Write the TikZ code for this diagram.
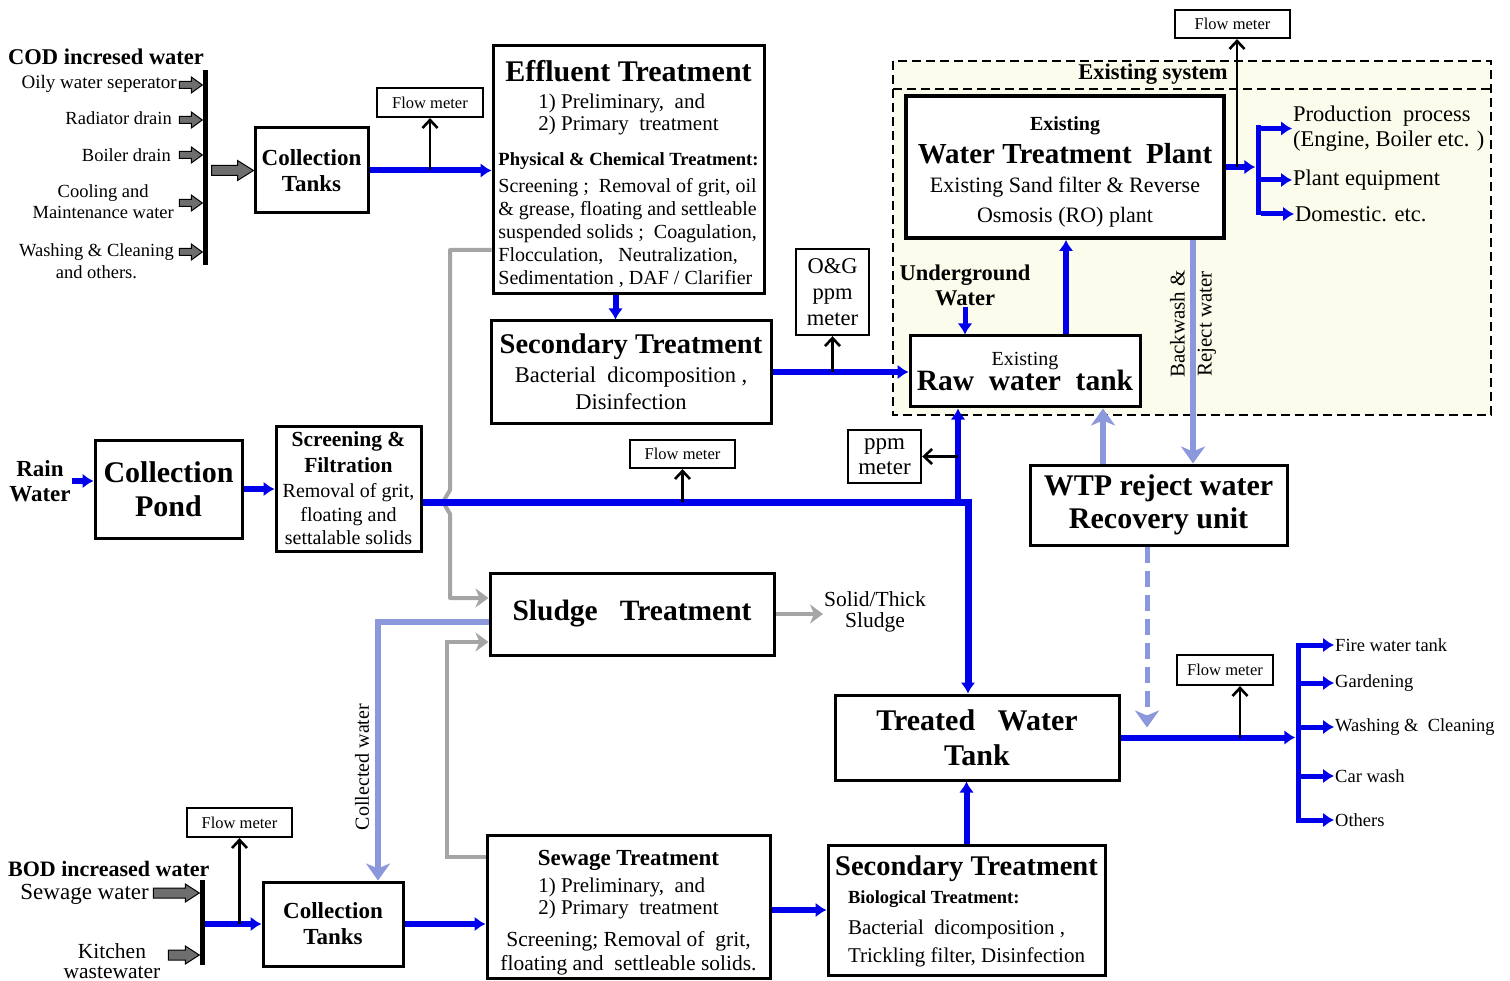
\documentclass[tikz,border=0pt]{standalone}
\usepackage{fontspec}
\setmainfont{Liberation Serif}
\usepackage{xcolor}
\usepackage{tikz}
\usetikzlibrary{arrows.meta,calc}

\newcommand{\fsz}[2]{\fontsize{#1}{#2}\selectfont}
% tip, length, shaft half width, head half width, head length
\newcommand{\fatarrow}[5]{%
  \filldraw[fill=fatgray, line width=1pt, shift={#1}] (-#2,-#3) -- (-#5,-#3) -- (-#5,-#4) -- (0,0)
    -- (-#5,#4) -- (-#5,#3) -- (-#2,#3) -- cycle;}
\definecolor{flowblue}{RGB}{0,0,235}
\definecolor{paleblue}{RGB}{140,152,220}
\definecolor{sludgegray}{RGB}{165,165,165}
\definecolor{fatgray}{RGB}{110,110,110}
\definecolor{exfill}{RGB}{252,252,236}

\begin{document}
\begin{tikzpicture}[x=1pt, y=-1pt,
    box/.style={draw, line width=3pt, fill=white, inner sep=2pt, align=center},
    meterbox/.style={draw, line width=2.2pt, fill=white, inner sep=1pt, font=\fsz{16.5}{18}},
    lbl/.style={inner sep=1pt, align=center},
    flow/.style={flowblue, line width=6pt, -{Latex[length=11pt,width=15pt]}},
    pale/.style={paleblue, line width=6pt, -{Stealth[length=17pt,width=24pt,inset=5pt]}},
    sludge/.style={sludgegray, line width=4pt, -{Stealth[length=13pt,width=19pt,inset=4pt]}},
    meter/.style={line width=2.6pt, -{Straight Barb[length=8pt,width=15pt]}},
    bus/.style={fill=black, inner sep=0pt, minimum width=5pt}
  ]
  \fill[white] (0,0) rectangle (1510,981);
  \useasboundingbox (0,0) rectangle (1510,981);

  % Existing system frame
  \filldraw[fill=exfill, line width=2.2pt, dash pattern=on 9pt off 5pt] (893,61) rectangle (1491,415);
  \draw[line width=2.2pt, dash pattern=on 9pt off 5pt] (893,89) -- (1491,89);
  \node[font=\fsz{22.5}{24}\bfseries, inner sep=0pt] (exs) at (1153,74) {Existing system};

  % COD side
  \node[anchor=west, font=\fsz{22.5}{24}\bfseries, inner sep=0pt] (cod) at (8,57) {COD incresed water};
  \node[bus, minimum height=195pt] (bar1) at (205,167.5) {};
  \node[lbl, anchor=east, font=\fsz{19}{21}] (oily) at (178,84) {Oily water\ seperator};
  \node[lbl, anchor=east, font=\fsz{18.5}{21}] (rad) at (173,118) {Radiator drain};
  \node[lbl, anchor=east, font=\fsz{18.5}{21}] (boil) at (172,155) {Boiler drain};
  \node[lbl, anchor=east, font=\fsz{18.5}{21}] (cool) at (175,202) {Cooling and\\Maintenance water};
  \node[lbl, anchor=east, font=\fsz{18.5}{22}] (wash) at (175,261) {Washing \& Cleaning\\and others.};
  \foreach \y in {85,120,155,203,252} {
    \fatarrow{(bar1.west |- 0,\y)}{23}{3.5}{8}{11}
  }

  \node[box, minimum width=113pt, minimum height=85pt, font=\fsz{23}{26}\bfseries] (ct1) at (311.5,170.5) {Collection\\Tanks};
  \fatarrow{(ct1.west)}{42}{5}{10}{16}
  \node[meterbox, minimum width=106pt, minimum height=29pt] (fm1) at (430,102.5) {Flow meter};

  % Effluent and secondary treatment
  \node[box, minimum width=271pt, minimum height=245pt, font=\fsz{20}{23}] (eff) at (628.5,169.5) {%
    {\fsz{30}{30}\bfseries\rule{0pt}{34pt}Effluent Treatment}\\[10pt]
    {\fsz{21}{22}\begin{tabular}{@{}l@{}}1) Preliminary,\ \ and\\2) Primary\ \ treatment\end{tabular}}\\[11pt]
    \begin{tabular}{@{}l@{}}{\fsz{18.6}{23}\bfseries Physical \& Chemical Treatment:}\\[4pt]
      Screening ;\ \ Removal of grit, oil\\
      \& grease, floating and settleable\\
      suspended solids ;\ \ Coagulation,\\
      Flocculation,\ \ \ Neutralization,\\
      Sedimentation , DAF / Clarifier\end{tabular}};
  \node[box, minimum width=280pt, minimum height=102pt, font=\fsz{22.5}{27}] (sec1) at (631,372) {%
    {\fsz{28.5}{30}\bfseries Secondary Treatment}\\[2pt] Bacterial\ \ dicomposition ,\\ Disinfection};
  \node[box, line width=2.4pt, minimum width=73pt, minimum height=86pt, font=\fsz{22.5}{26}] (og) at (832.5,292) {O\&G\\ppm\\meter};

  % Existing plant
  \node[box, line width=4pt, minimum width=318pt, minimum height=142pt, font=\fsz{22}{29.5}] (wtp) at (1065,167) {%
    {\fsz{20}{22}\bfseries\rule{0pt}{24pt}Existing}\\[3pt] {\fsz{29}{30}\bfseries Water Treatment\ \ Plant}\\
    Existing Sand filter \& Reverse\\ Osmosis (RO) plant};
  \node[meterbox, minimum width=115pt, minimum height=28pt] (fm0) at (1232.5,24) {Flow meter};
  \node[bus, fill=flowblue, minimum height=90pt] (bus1) at (1258,170.5) {};
  \node[lbl, anchor=west, font=\fsz{22.5}{25}, align=left] (prod) at (1292,128.5) {Production\ \ process\\(Engine, Boiler etc. )};
  \node[lbl, anchor=west, font=\fsz{22.5}{25}] (peq) at (1292,180) {Plant equipment};
  \node[lbl, anchor=west, font=\fsz{22.5}{25}] (dom) at (1294,214) {Domestic. etc.};
  \node[lbl, font=\fsz{22.5}{25}\bfseries] (ug) at (965,285) {Underground\\Water};
  \node[box, minimum width=230pt, minimum height=71pt, font=\fsz{20}{25}] (rw) at (1025,371.5) {%
    Existing\\{\fsz{29.5}{30}\bfseries Raw\ \ water\ \ tank}};
  \node[box, minimum width=257pt, minimum height=80pt, font=\fsz{30}{33}\bfseries] (rej) at (1158.5,505) {WTP reject water\\Recovery unit};
  \node[lbl, rotate=90, font=\fsz{21}{27}] (bwl) at (1193,324) {Backwash \&\\Reject water};

  % Rain water
  \node[lbl, font=\fsz{23}{25}\bfseries] (rain) at (40,481) {Rain\\Water};
  \node[box, minimum width=147pt, minimum height=98pt, font=\fsz{30}{34}\bfseries] (pond) at (168.5,489) {Collection\\Pond};
  \node[box, minimum width=145pt, minimum height=125pt, font=\fsz{20}{23.5}, inner sep=0pt] (scr) at (348.5,488.5) {%
    {\fsz{21.5}{26}\bfseries Screening \&}\\[2pt] {\fsz{21.5}{26}\bfseries Filtration}\\[2pt]
    Removal of grit,\\ floating and\\ settalable solids};
  \node[box, line width=2.4pt, minimum width=73pt, minimum height=53pt, font=\fsz{23}{25}] (ppm) at (884.5,456.5) {ppm\\meter};
  \node[meterbox, minimum width=105pt, minimum height=28pt] (fm2) at (682.5,454) {Flow meter};

  % Sludge and treated water
  \node[box, minimum width=284pt, minimum height=82pt, font=\fsz{29.5}{30}\bfseries] (sl) at (632,614) {Sludge\ \ \ Treatment};
  \node[lbl, font=\fsz{21.5}{21}] (solid) at (875,612) {Solid/Thick\\Sludge};
  \node[box, minimum width=284pt, minimum height=85pt, font=\fsz{30}{35}\bfseries] (tw) at (977,737.5) {Treated\ \ \ Water\\Tank};
  \node[meterbox, minimum width=96pt, minimum height=30pt] (fm3) at (1225,670) {Flow meter};
  \node[bus, fill=flowblue, minimum height=180pt] (bus2) at (1298,733) {};
  \node[lbl, anchor=west, font=\fsz{18.5}{21}] (fire) at (1334,645) {Fire water tank};
  \node[lbl, anchor=west, font=\fsz{18.5}{21}] (gard) at (1334,683) {Gardening};
  \node[lbl, anchor=west, font=\fsz{18.5}{21}] (wcl) at (1334,727) {Washing \&\ \ Cleaning};
  \node[lbl, anchor=west, font=\fsz{18.5}{21}] (car) at (1334,776) {Car wash};
  \node[lbl, anchor=west, font=\fsz{18.5}{21}] (oth) at (1334,820) {Others};

  % BOD side
  \node[anchor=west, font=\fsz{22}{24}\bfseries, inner sep=0pt] (bod) at (8,869) {BOD increased water};
  \node[bus, minimum height=85pt] (bar2) at (202,922.5) {};
  \node[lbl, anchor=east, font=\fsz{23}{24}, inner sep=0pt] (sewl) at (149,894) {Sewage water};
  \node[lbl, font=\fsz{21.5}{20.5}] (kit) at (112,961) {Kitchen\\wastewater};
  \fatarrow{(bar2.west |- 0,893)}{46}{5}{9}{14}
  \fatarrow{(bar2.west |- 0,955)}{31}{5}{9}{14}
  \node[box, minimum width=140pt, minimum height=84pt, font=\fsz{23}{26}\bfseries] (ct2) at (333,924) {Collection\\Tanks};
  \node[meterbox, minimum width=105pt, minimum height=29pt] (fm4) at (239.5,822.5) {Flow meter};
  \node[box, minimum width=283pt, minimum height=143pt, font=\fsz{21.5}{24}] (sew) at (628.5,906.5) {%
    {\fsz{23}{24}\bfseries\rule{0pt}{27pt}Sewage Treatment}\\[6pt]
    {\fsz{21}{22}\begin{tabular}{@{}l@{}}1) Preliminary,\ \ and\\ 2) Primary\ \ treatment\end{tabular}}\\[9pt]
    Screening;\ Removal\ of\ \ grit,\\ floating\ and\ \ settleable\ solids.};
  \node[box, minimum width=277pt, minimum height=130pt, font=\fsz{21}{28}] (sec2) at (966.5,910) {%
    {\fsz{28.5}{30}\bfseries\rule{0pt}{27pt}Secondary Treatment}\\[1pt]
    \begin{tabular}{@{}l@{}}{\fsz{18.5}{28}\bfseries Biological Treatment:}\\[3pt]
      Bacterial\ \ dicomposition ,\\ Trickling filter, Disinfection\end{tabular}};

  % Sludge lines
  \draw[sludge, line join=round] (eff.west |- 0,250) -- (450,250) -- (450,490) -- (443,502) -- (450,514) -- (450,598) -- (sl.west |- 0,598);
  \draw[sludge] (sew.west |- 0,857) -- (447,857) -- (447,642) -- (sl.west |- 0,642);
  \draw[sludge] (sl.east) -- (sl.east -| solid.west);

  % Water flows
  \draw[flow] (ct1.east) -- (ct1.east -| eff.west);
  \draw[meter] (fm1.south |- ct1.east) -- (fm1.south);
  \coordinate (e1) at ($(eff.south)+(-13,0)$);
  \draw[flow] (e1) -- (e1 |- sec1.north);
  \draw[flow] (sec1.east) -- (sec1.east -| rw.west);
  \draw[meter] (og.south |- sec1.east) -- (og.south);
  \draw[flow, line width=5pt] (ug.south) -- (ug.south |- rw.north);
  \coordinate (r1) at ($(rw.north)+(41,0)$);
  \draw[flow] (r1) -- (r1 |- wtp.south);
  \draw[flow] (wtp.east) -- (wtp.east -| bus1.west);
  \foreach \n in {prod,peq,dom}
    \draw[flow, line width=5pt] (bus1.east |- \n.west) -- (\n.west);
  \coordinate (m0) at ($(fm0.south)+(4.5,0)$);
  \draw[meter] (m0 |- wtp.east) -- (m0);

  % Reject water
  \coordinate (b1) at ($(wtp.south)+(128,0)$);
  \draw[pale] (b1) -- (b1 |- rej.north);
  \coordinate (b2) at ($(rej.north)+(-55.5,0)$);
  \draw[pale] (b2) -- (b2 |- rw.south);
  \coordinate (b3) at ($(rej.south)+(-11.5,0)$);
  \draw[pale, line width=5pt, dash pattern=on 16pt off 8pt] (b3) -- ++(0,181);

  % Rain water line
  \draw[flow] (rain.east) -- (rain.east -| pond.west);
  \draw[flow] (pond.east) -- (pond.east -| scr.west);
  \coordinate (jA) at (968,502);
  \coordinate (jB) at (958,502);
  \draw[flow, line width=7pt] (scr.east |- jA) -- (jA) -- (jA |- tw.north);
  \draw[flow] (jB) -- (jB |- rw.south);
  \draw[meter] (jB |- ppm.east) -- (ppm.east);
  \draw[meter] (fm2.south |- jA) -- (fm2.south);

  % Collected water
  \draw[pale] (sl.west |- 0,622) -- (378,622) -- (378,0 |- ct2.north);
  \node[lbl, rotate=90, font=\fsz{20}{22}] (cwl) at (362,767) {Collected water};

  % Sewage line
  \draw[flow] (bar2.east |- ct2.west) -- (ct2.west);
  \draw[meter] (fm4.south |- ct2.west) -- (fm4.south);
  \draw[flow] (ct2.east) -- (ct2.east -| sew.west);
  \draw[flow] (sec2.west -| sew.east) -- (sec2.west);
  \draw[flow] (sec2.north) -- (sec2.north |- tw.south);
  \draw[flow] (tw.east) -- (tw.east -| bus2.west);
  \coordinate (m3) at ($(fm3.south)+(15,0)$);
  \draw[meter] (m3 |- tw.east) -- (m3);
  \foreach \n in {fire,gard,wcl,car,oth}
    \draw[flow, line width=5pt] (bus2.east |- \n.west) -- (\n.west);
\end{tikzpicture}
\end{document}
